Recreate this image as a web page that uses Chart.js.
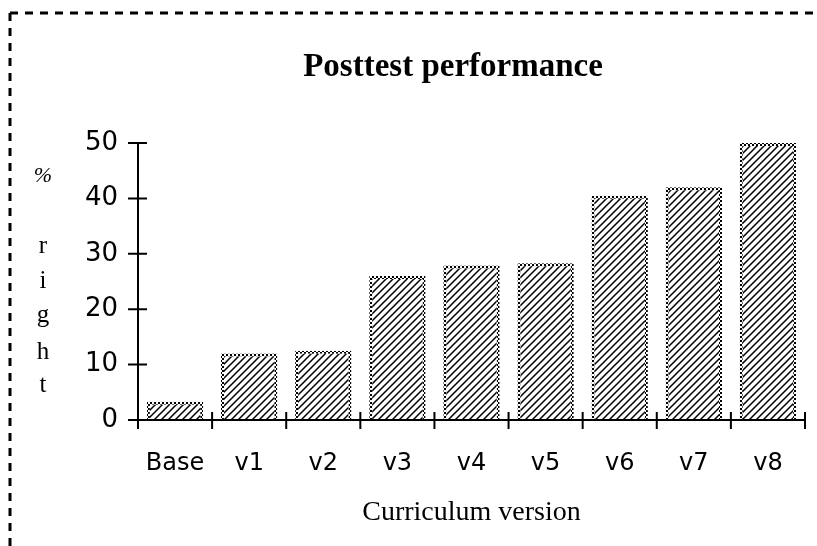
<!DOCTYPE html>
<html>
<head>
<meta charset="utf-8">
<script src="https://cdn.jsdelivr.net/npm/chart.js@4"></script>
<style>
  html, body { margin: 0; padding: 0; background: #fff; }
  #wrap { width: 817px; height: 546px; position: relative; }
</style>
</head>
<body>
<div id="wrap"><canvas id="barChart"></canvas></div>
<script>
// data
const versions = ['Base', 'v1', 'v2', 'v3', 'v4', 'v5', 'v6', 'v7', 'v8'];
const percentRight = [3.3, 12.0, 12.5, 26.0, 27.9, 28.3, 40.5, 42.0, 50.0];
const yTicks = [0, 10, 20, 30, 40, 50];

const serif = '"Liberation Serif", "DejaVu Serif", serif';
const sans = '"DejaVu Sans", "Noto Sans", sans-serif';

// diagonal hatch fill
function makeHatch() {
    const c = document.createElement('canvas');
    c.width = 7; c.height = 7;
    const g = c.getContext('2d');
    g.fillStyle = '#fff';
    g.fillRect(0, 0, 7, 7);
    g.strokeStyle = '#000';
    g.lineWidth = 1.5;
    g.beginPath();
    g.moveTo(-1, 8); g.lineTo(8, -1);
    g.moveTo(-1, 1); g.lineTo(1, -1);
    g.moveTo(6, 8); g.lineTo(8, 6);
    g.stroke();
    return g.createPattern(c, 'repeat');
}

// checkered border
function makeChecker() {
    const c = document.createElement('canvas');
    c.width = 4; c.height = 4;
    const g = c.getContext('2d');
    g.fillStyle = '#fff';
    g.fillRect(0, 0, 4, 4);
    g.fillStyle = '#000';
    g.fillRect(0, 0, 2, 2);
    g.fillRect(2, 2, 2, 2);
    return g.createPattern(c, 'repeat');
}

const ctx = document.getElementById('barChart').getContext('2d');

// dashed frame, title, stacked y label, crossing ticks
const decorations = {
    id: 'decorations',
    afterDraw(chart) {
        const c = chart.ctx;
        const area = chart.chartArea;
        const x = chart.scales.x;
        const y = chart.scales.y;
        c.save();

        // frame (only top and left are inside the window)
        c.strokeStyle = '#000';
        c.lineWidth = 3;
        c.setLineDash([8, 7]);
        c.beginPath();
        c.moveTo(10, 13);
        c.lineTo(chart.width + 20, 13);
        c.moveTo(10, 13);
        c.lineTo(10, chart.height + 20);
        c.stroke();
        c.setLineDash([]);

        // title
        c.fillStyle = '#000';
        c.textAlign = 'center';
        c.textBaseline = 'alphabetic';
        c.font = 'bold 33px ' + serif;
        c.fillText('Posttest performance', 453, 76);

        // axes
        c.lineWidth = 2;
        c.beginPath();
        c.moveTo(area.left, area.top - 1);
        c.lineTo(area.left, area.bottom);
        c.lineTo(area.right, area.bottom);
        c.stroke();

        // y ticks cross the axis
        c.beginPath();
        yTicks.forEach(v => {
            const py = y.getPixelForValue(v);
            c.moveTo(area.left - 10, py);
            c.lineTo(area.left + 9, py);
        });
        // x ticks between categories
        const step = x.getPixelForValue(1) - x.getPixelForValue(0);
        for (let i = 0; i <= versions.length; i++) {
            const px = i < versions.length ? x.getPixelForValue(i) - step / 2 : area.right;
            c.moveTo(px, area.bottom - 8);
            c.lineTo(px, area.bottom + 9);
        }
        c.stroke();

        // "% right" stacked letters
        c.textAlign = 'center';
        c.font = 'italic 22px ' + serif;
        c.fillText('%', 43, 182);
        c.font = '25px ' + serif;
        const letters = ['r', 'i', 'g', 'h', 't'];
        const baselines = [253, 288, 322, 359, 392];
        letters.forEach((ch, i) => c.fillText(ch, 43, baselines[i]));
        c.restore();
    }
};

new Chart(ctx, {
    type: 'bar',
    data: {
        labels: versions,
        datasets: [{
            data: percentRight,
            backgroundColor: makeHatch(),
            borderColor: makeChecker(),
            borderWidth: 3,
            borderSkipped: 'bottom',
            barPercentage: 0.76,
            categoryPercentage: 1.0
        }]
    },
    options: {
        responsive: true,
        maintainAspectRatio: false,
        animation: false,
        layout: {
            padding: { left: 0, right: 12, top: 143, bottom: 0 }
        },
        plugins: {
            legend: { display: false },
            tooltip: { enabled: false },
            title: { display: false }
        },
        scales: {
            x: {
                offset: true,
                grid: { display: false },
                border: { display: false },
                afterFit: (axis) => { axis.height = 126; },
                ticks: {
                    color: '#000',
                    font: { family: sans, size: 24 },
                    padding: 21
                },
                title: {
                    display: true,
                    text: 'Curriculum version',
                    color: '#000',
                    font: { family: serif, size: 28 },
                    padding: { top: 0, bottom: 17 }
                }
            },
            y: {
                min: 0,
                max: 50,
                afterBuildTicks: (axis) => { axis.ticks = yTicks.map(v => ({ value: v })); },
                afterFit: (axis) => { axis.width = 138; },
                grid: { display: false },
                border: { display: false },
                ticks: {
                    color: '#000',
                    font: { family: sans, size: 26 },
                    padding: 12
                }
            }
        }
    },
    plugins: [decorations]
});
</script>
</body>
</html>
